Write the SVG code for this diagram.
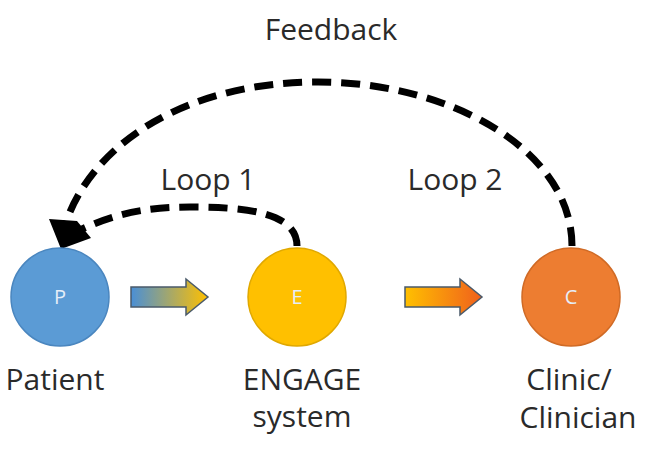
<svg xmlns="http://www.w3.org/2000/svg" width="645" height="450" viewBox="0 0 645 450">
<style>
.lbl{font-family:"Open Sans","Liberation Sans",sans-serif;font-size:30px;fill:#2a2a2a;text-anchor:middle}
.ini{font-family:"Open Sans","Liberation Sans",sans-serif;font-size:20px;fill:#e6eef8;text-anchor:middle}
.dash{fill:none;stroke:#000;stroke-width:7;stroke-dasharray:19 10}
.head{fill:#000}
.blk{stroke:#4a5a6a;stroke-width:1.5}
</style>
<defs>
<linearGradient id="g1" x1="0" x2="1" y1="0" y2="0"><stop offset="0" stop-color="#4a8fd6"/><stop offset="1" stop-color="#ffc000"/></linearGradient>
<linearGradient id="g2" x1="0" x2="1" y1="0" y2="0"><stop offset="0" stop-color="#ffc000"/><stop offset="1" stop-color="#f0601c"/></linearGradient>
</defs>
<text class="lbl" x="331" y="40">Feedback</text>
<text class="lbl" x="208" y="190">Loop 1</text>
<text class="lbl" x="455" y="190">Loop 2</text>
<g id="connectors">
<path class="dash" d="M572,246 C572,150 450,82 318,82 C190,82 95,140 66,222"/>
<path class="dash" d="M297,246 C297,212 245,207 190,207 C140,207 110,216 80,230"/>
<polygon class="head" points="61,249 49,219 77,221 91,238"/>
<polygon class="blk" fill="url(#g1)" points="131,287 186,287 186,279 208,297 186,315 186,307 131,307"/>
<polygon class="blk" fill="url(#g2)" points="405,287 460,287 460,279 482,297 460,315 460,307 405,307"/>
</g>
<g id="patient">
<circle cx="60" cy="297" r="49" fill="#5b9bd5" stroke="#4a86bf" stroke-width="1.5"/>
<text class="ini" x="60" y="304">P</text>
<text class="lbl" x="55" y="390">Patient</text>
</g>
<g id="engage">
<circle cx="297" cy="297" r="49" fill="#ffc000" stroke="#e0a800" stroke-width="1.5"/>
<text class="ini" x="297" y="304">E</text>
<text class="lbl" x="302" y="390">ENGAGE</text>
<text class="lbl" x="302" y="427">system</text>
</g>
<g id="clinic">
<circle cx="571" cy="297" r="49" fill="#ed7d31" stroke="#d06a25" stroke-width="1.5"/>
<text class="ini" x="571" y="304">C</text>
<text class="lbl" x="569" y="390">Clinic/</text>
<text class="lbl" x="578" y="428">Clinician</text>
</g>
</svg>
